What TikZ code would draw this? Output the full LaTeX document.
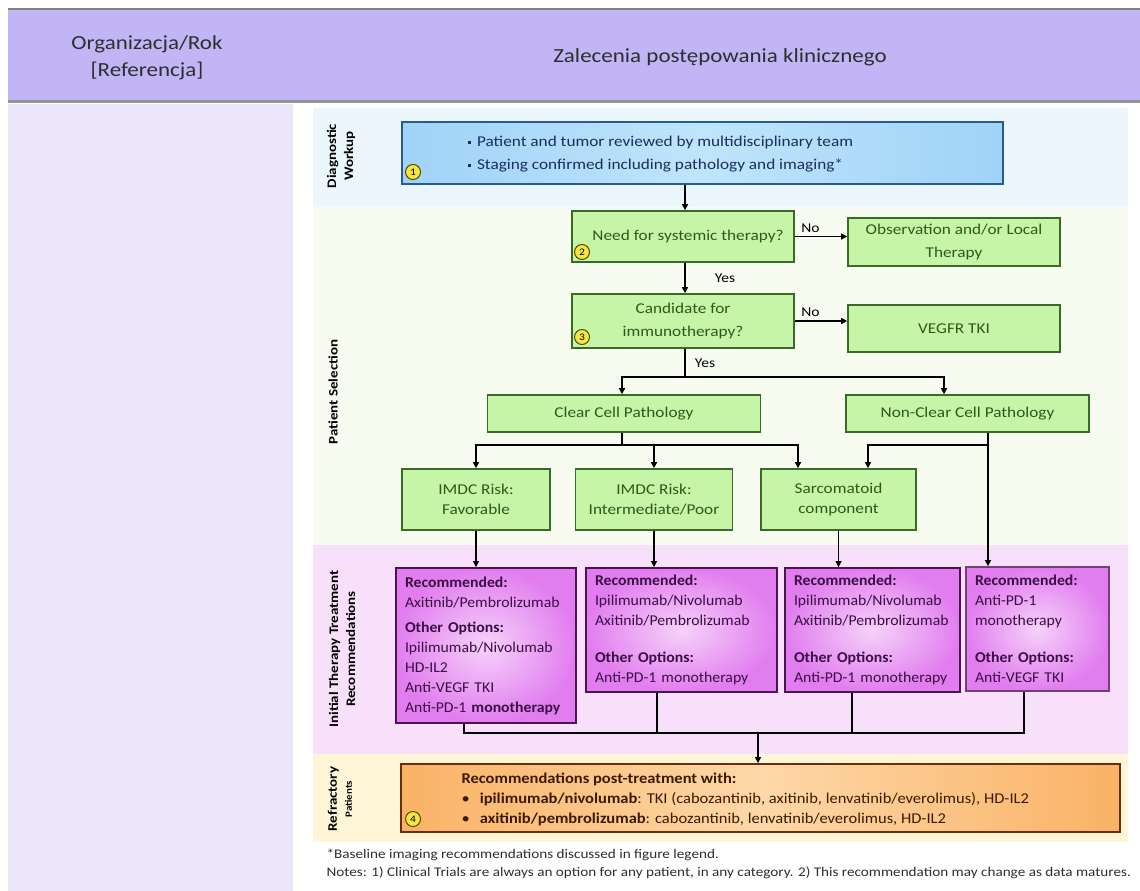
\documentclass[tikz,border=0pt]{standalone}
\usepackage{fontspec}
\setmainfont{Carlito}[FakeStretch=1.15]
\newfontfamily\pfont{Carlito}[FakeStretch=1.05]
\newfontfamily\ofont{Carlito}[FakeStretch=1.10]
\usetikzlibrary{arrows.meta,calc}
\definecolor{hdr}{HTML}{C2B5F5}
\definecolor{leftcol}{HTML}{EAE6F8}
\definecolor{bandA}{HTML}{EBF6FD}
\definecolor{bandB}{HTML}{F8FCF0}
\definecolor{bandC}{HTML}{F8E0FB}
\definecolor{bandD}{HTML}{FEF6D6}
\definecolor{gfill}{HTML}{C6F5A8}
\definecolor{gborder}{HTML}{3A6A2A}
\definecolor{gtext}{HTML}{2D5A1B}
\definecolor{bfill}{HTML}{9FD3F7}
\definecolor{bfillc}{HTML}{BFE5FB}
\definecolor{bborder}{HTML}{2C5A8A}
\definecolor{btext}{HTML}{1E2D5C}
\definecolor{pinner}{HTML}{F6D2FA}
\definecolor{pouter}{HTML}{E17DEF}
\definecolor{pborder}{HTML}{4A1450}
\definecolor{ptext}{HTML}{3B0F45}
\definecolor{ofill}{HTML}{FAB266}
\definecolor{ofillc}{HTML}{FDD8A8}
\definecolor{oborder}{HTML}{6B2E0A}
\definecolor{otext}{HTML}{3A1A00}
\definecolor{numfill}{HTML}{F5E642}
\definecolor{numborder}{HTML}{5A4A00}
\definecolor{hdrtext}{HTML}{2E2E2E}
\begin{document}
\begin{tikzpicture}[x=1pt,y=-1pt,
  gbox/.style={draw=gborder, line width=1.6pt, fill=gfill, text=gtext, font=\fontsize{15}{23}\selectfont, align=center, inner sep=0pt},
  pbox/.style={draw=pborder, line width=1.8pt, inner color=pinner, outer color=pouter, text=ptext, align=left, font=\pfont\fontsize{15}{20}\selectfont, inner xsep=9pt, inner ysep=0pt},
  num/.style={circle, draw=numborder, fill=numfill, line width=1pt, inner sep=0pt, minimum size=15pt, font=\fontsize{10}{10}\selectfont},
  arr/.style={-{Triangle[length=6pt,width=6pt]}, line width=1.3pt},
  ln/.style={line width=1.3pt},
  side/.style={rotate=90, font=\bfseries\fontsize{13}{17}\selectfont, align=center, text=black},
  lab/.style={font=\fontsize{13.5}{13.5}\selectfont, text=black}
]
\useasboundingbox (0,0) rectangle (1140,891);
% header
\fill[hdr] (8,10) rectangle (1140,100);
\draw[line width=2pt, gray] (8,9) -- (1140,9);
\draw[line width=3pt, gray!85] (8,101.5) -- (1140,101.5);
\fill[leftcol] (8,104) rectangle (293,891);
\node[font=\fontsize{20}{27}\selectfont, text=hdrtext, align=center] (hl) at (147,58) {Organizacja/Rok\\{}[Referencja]};
\node[font=\fontsize{20}{27}\selectfont, text=hdrtext] (hr) at (720,57) {Zalecenia postępowania klinicznego};
% bands
\fill[bandA] (313,108) rectangle (1128,207);
\fill[bandB] (313,207) rectangle (1128,545);
\fill[bandC] (313,545) rectangle (1128,754);
\fill[bandD] (313,754) rectangle (1128,842);
\node[side] (sA) at (341,156) {Diagnostic\\Workup};
\node[side] (sB) at (333,392) {Patient Selection};
\node[side] (sC) at (342,649) {Initial Therapy Treatment\\Recommendations};
\node[side, font=\bfseries\fontsize{13}{15}\selectfont] (sD) at (340,799) {Refractory\\{\fontsize{9.5}{9.5}\selectfont Patients}};
% diagnostic box
\node[draw=bborder, line width=1.6pt, left color=bfill, right color=bfill, middle color=bfillc, minimum width=601pt, minimum height=62pt, inner sep=0pt] (diag) at (702.5,153) {};
\node[anchor=west, align=left, text=btext, font=\fontsize{15}{23}\selectfont] (diagtext) at (464,154.5) {\raisebox{2.5pt}{\rule{3.5pt}{3.5pt}}\hspace{6pt}Patient and tumor reviewed by multidisciplinary team\\\raisebox{2.5pt}{\rule{3.5pt}{3.5pt}}\hspace{6pt}Staging confirmed including pathology and imaging*};
\node[num] (n1) at (413,172) {1};
% patient selection
\node[gbox, minimum width=222pt, minimum height=51pt] (need) at (683,236.5) {\hspace{10pt}Need for systemic therapy?};
\node[gbox, minimum width=212pt, minimum height=48pt] (obs) at (954,242) {Observation and/or Local\\Therapy};
\node[gbox, minimum width=222pt, minimum height=54pt] (cand) at (683,321) {Candidate for\\immunotherapy?};
\node[gbox, minimum width=212pt, minimum height=47pt] (vegfr) at (954,328.5) {VEGFR TKI};
\node[num] (n2) at (582,252) {2};
\node[num] (n3) at (582,337) {3};
\node[gbox, minimum width=273pt, minimum height=37pt] (clear) at (624,413.5) {Clear Cell Pathology};
\node[gbox, minimum width=243pt, minimum height=37pt] (nonclear) at (967.5,413.5) {Non-Clear Cell Pathology};
\node[gbox, minimum width=148pt, minimum height=61pt, font=\fontsize{15}{20}\selectfont] (fav) at (476,499.5) {IMDC Risk:\\Favorable};
\node[gbox, minimum width=157pt, minimum height=61pt, font=\fontsize{15}{20}\selectfont] (inter) at (654,499.5) {IMDC Risk:\\Intermediate/Poor};
\node[gbox, minimum width=155pt, minimum height=61pt, font=\fontsize{15}{20}\selectfont] (sarc) at (838.5,499.5) {Sarcomatoid\\component};
% treatment boxes
\node[pbox, text width=162pt, minimum height=155pt] (t1) at (486,645.5) {\textbf{Recommended:}\\Axitinib/Pembrolizumab\\[5pt]\textbf{Other Options:}\\Ipilimumab/Nivolumab\\HD-IL2\\Anti-VEGF TKI\\Anti-PD-1 \textbf{monotherapy}};
\node[pbox, text width=173pt, minimum height=124pt] (t2) at (681.5,630) {\textbf{Recommended:}\\Ipilimumab/Nivolumab\\Axitinib/Pembrolizumab\\[17pt]\textbf{Other Options:}\\Anti-PD-1 monotherapy};
\node[pbox, text width=157pt, minimum height=124pt] (t3) at (872.5,630) {\textbf{Recommended:}\\Ipilimumab/Nivolumab\\Axitinib/Pembrolizumab\\[17pt]\textbf{Other Options:}\\Anti-PD-1 monotherapy};
\node[pbox, text width=125pt, minimum height=124pt, draw=pborder!80] (t4) at (1037.5,629) {\textbf{Recommended:}\\Anti-PD-1\\monotherapy\\[17pt]\textbf{Other Options:}\\Anti-VEGF TKI};
% refractory
\node[draw=oborder, line width=1.8pt, left color=ofill, right color=ofill, middle color=ofillc, minimum width=719pt, minimum height=68pt, inner sep=0pt] (orange) at (760.5,798) {};
\node[anchor=west, align=left, text=otext, font=\ofont\fontsize{15}{20}\selectfont] (otext) at (458,799) {\textbf{Recommendations post-treatment with:}\\\textbullet\hspace{10pt}\textbf{ipilimumab/nivolumab}: TKI (cabozantinib, axitinib, lenvatinib/everolimus), HD-IL2\\\textbullet\hspace{10pt}\textbf{axitinib/pembrolizumab}: cabozantinib, lenvatinib/everolimus, HD-IL2};
\node[num] (n4) at (413,819) {4};
% footnotes
\node[anchor=west, font=\fontsize{13.2}{13.2}\selectfont, text=hdrtext] (f1) at (323,855) {*Baseline imaging recommendations discussed in figure legend.};
\node[anchor=west, font=\fontsize{13.2}{13.2}\selectfont, text=hdrtext] (f2) at (323,873) {Notes: 1) Clinical Trials are always an option for any patient, in any category. 2) This recommendation may change as data matures.};
% helper coordinates
\coordinate (j1) at (685,377);
\coordinate (j2) at (622,445);
\coordinate (x685) at (685,0);
\coordinate (x622) at (622,0);
\coordinate (x944) at (944,0);
\coordinate (x798) at (798,0);
\coordinate (x868) at (868,0);
\coordinate (x988) at (988,0);
\coordinate (c1) at (464,733);
\coordinate (c2) at (657,733);
\coordinate (c3) at (852,733);
\coordinate (c4) at (1024,733);
\coordinate (cm) at (758,733);
% connectors
\draw[arr] (diag.south -| x685) -- (need.north -| x685);
\draw[arr] (need.east) -- (need.east -| obs.west) node[lab, pos=0.3, above] (no1) {No};
\draw[arr] (need.south -| x685) -- (cand.north -| x685) node[lab, midway, right=26pt] (yes1) {Yes};
\draw[arr] (cand.east) -- (cand.east -| vegfr.west) node[lab, pos=0.3, above] (no2) {No};
\draw[ln] (cand.south -| x685) -- (j1) node[lab, midway, right=6pt] (yes2) {Yes};
\draw[arr] (j1) -| (clear.north -| x622);
\draw[arr] (j1) -| (nonclear.north -| x944);
\draw[ln] (clear.south -| x622) -- (j2);
\draw[arr] (j2) -| (fav.north);
\draw[arr] (j2) -| (inter.north);
\draw[arr] (j2) -| (sarc.north -| x798);
\draw[arr] (nonclear.south -| x988) -- (t4.north -| x988);
\draw[arr] (j2 -| x988) -| (sarc.north -| x868);
\draw[arr] (fav.south) -- (t1.north -| fav.south);
\draw[arr] (inter.south) -- (t2.north -| inter.south);
\draw[arr] (sarc.south) -- (t3.north -| sarc.south);
\draw[ln] (t1.south -| c1) -- (c1) -- (c4) -- (t4.south -| c4);
\draw[ln] (t2.south -| c2) -- (c2);
\draw[ln] (t3.south -| c3) -- (c3);
\draw[arr] (cm) -- (orange.north -| cm);
\end{tikzpicture}
\end{document}
